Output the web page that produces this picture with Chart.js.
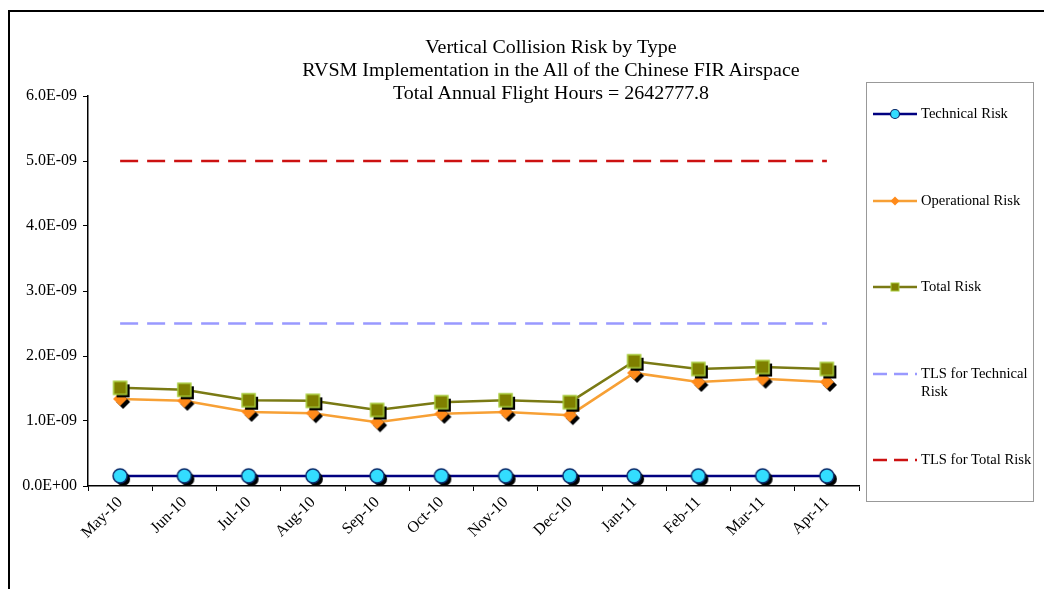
<!DOCTYPE html>
<html>
<head>
<meta charset="utf-8">
<script src="https://cdn.jsdelivr.net/npm/chart.js@4.4.0/dist/chart.umd.min.js"></script>
<style>
  html, body { margin: 0; padding: 0; background: #fff; }
  #wrap { position: relative; width: 1044px; height: 589px; overflow: hidden; font-family: "Liberation Serif", "Times New Roman", serif; }
  #frame { position: absolute; left: 8px; top: 10px; right: -10px; bottom: -10px; border-top: 2px solid #000; border-left: 2px solid #000; }
  #riskChart { position: absolute; left: 0; top: 0; }
  #title { position: absolute; left: 251px; width: 600px; top: 36px; text-align: center; font-size: 18px; line-height: 23px; color: #000; transform: scaleX(1.11); transform-origin: 300px 0; }
  #legend { position: absolute; left: 866px; top: 82px; width: 168px; height: 420px; border: 1px solid #999; box-sizing: border-box; }
  .item { position: absolute; left: 6px; display: flex; align-items: flex-start; font-size: 14.6px; line-height: 18px; color: #000; }
  .item svg { flex: none; margin-top: 2px; }
  .item span { margin-left: 4px; width: 114px; }
</style>
</head>
<body>
<div id="wrap">
  <div id="frame"></div>
  <canvas id="riskChart" width="1044" height="589"></canvas>
  <div id="title">Vertical Collision Risk by Type<br>RVSM Implementation in the All of the Chinese FIR Airspace<br>Total Annual Flight Hours = 2642777.8</div>
  <div id="legend"></div>
</div>
<script>
const meses = ['May-10', 'Jun-10', 'Jul-10', 'Aug-10', 'Sep-10', 'Oct-10', 'Nov-10', 'Dec-10', 'Jan-11', 'Feb-11', 'Mar-11', 'Apr-11'];
const technicalRisk = [1.55e-10, 1.55e-10, 1.55e-10, 1.55e-10, 1.55e-10, 1.55e-10, 1.55e-10, 1.55e-10, 1.55e-10, 1.55e-10, 1.55e-10, 1.55e-10];
const operationalRisk = [1.34e-9, 1.31e-9, 1.14e-9, 1.12e-9, 0.98e-9, 1.11e-9, 1.14e-9, 1.09e-9, 1.74e-9, 1.60e-9, 1.65e-9, 1.60e-9];
const totalRisk = [1.51e-9, 1.48e-9, 1.32e-9, 1.31e-9, 1.17e-9, 1.29e-9, 1.32e-9, 1.29e-9, 1.92e-9, 1.80e-9, 1.83e-9, 1.80e-9];
const tlsTechnical = [2.5e-9, 2.5e-9, 2.5e-9, 2.5e-9, 2.5e-9, 2.5e-9, 2.5e-9, 2.5e-9, 2.5e-9, 2.5e-9, 2.5e-9, 2.5e-9];
const tlsTotal = [5e-9, 5e-9, 5e-9, 5e-9, 5e-9, 5e-9, 5e-9, 5e-9, 5e-9, 5e-9, 5e-9, 5e-9];
const yMin = 0, yMax = 6e-9, yStep = 1e-9;

// formato tipo Excel: 6.0E-09
function formatoCientifico(v) {
    const partes = Number(v).toExponential(1).split('e');
    const exp = parseInt(partes[1], 10);
    return partes[0] + 'E' + (exp < 0 ? '-' : '+') + String(Math.abs(exp)).padStart(2, '0');
}

// marcador con sombra negra
function marcador(forma, tam, relleno, borde, grosor) {
    const off = 3, pad = off + 2, n = tam + pad * 2;
    const c = document.createElement('canvas');
    c.width = n; c.height = n;
    const g = c.getContext('2d');
    const trazo = (cx, cy) => {
        g.beginPath();
        const r = tam / 2;
        if (forma === 'circle') g.arc(cx, cy, r, 0, Math.PI * 2);
        else if (forma === 'rect') g.rect(cx - r, cy - r, tam, tam);
        else { g.moveTo(cx, cy - r); g.lineTo(cx + r, cy); g.lineTo(cx, cy + r); g.lineTo(cx - r, cy); }
        g.closePath();
    };
    g.fillStyle = '#000';
    trazo(n / 2 + off, n / 2 + off); g.fill();
    g.fillStyle = relleno;
    trazo(n / 2, n / 2); g.fill();
    if (borde) { g.strokeStyle = borde; g.lineWidth = grosor; g.stroke(); }
    return c;
}

const series = [
    { label: 'Technical Risk', data: technicalRisk, color: '#000080', forma: 'circle', relleno: '#33DDFF', borde: '#0A2A6A', tam: 14 },
    { label: 'Operational Risk', data: operationalRisk, color: '#F7A035', forma: 'diamond', relleno: '#FF8A1A', borde: null, tam: 14 },
    { label: 'Total Risk', data: totalRisk, color: '#7A7A14', forma: 'rect', relleno: '#7F7F00', borde: '#A8CC3A', tam: 13 },
    { label: 'TLS for Technical Risk', data: tlsTechnical, color: '#9999FF', dash: [18, 9] },
    { label: 'TLS for Total Risk', data: tlsTotal, color: '#CC1111', dash: [18, 9] }
];

const datasets = series.map(s => ({
    label: s.label,
    data: s.data,
    borderColor: s.color,
    backgroundColor: s.color,
    borderWidth: 2.5,
    borderDash: s.dash || [],
    pointStyle: s.forma ? marcador(s.forma, s.tam, s.relleno, s.borde, 1.5) : 'circle',
    pointRadius: s.forma ? 8 : 0,
    tension: 0
}));

const ctx = document.getElementById('riskChart').getContext('2d');
new Chart(ctx, {
    type: 'line',
    data: { labels: meses, datasets: datasets.slice().reverse() },
    options: {
        responsive: false,
        animation: false,
        layout: { padding: { left: 0, top: 96, right: 185, bottom: 0 } },
        scales: {
            x: {
                offset: true,
                afterFit: scale => { scale.height = 103; },
                grid: { display: true, drawOnChartArea: false, drawTicks: true, tickLength: 5, color: '#000', offset: true },
                border: { display: true, color: '#000', width: 1.5 },
                ticks: {
                    color: '#000', maxRotation: 45, minRotation: 45, padding: 2, autoSkip: false,
                    font: { family: 'Liberation Serif', size: 16 }
                }
            },
            y: {
                min: yMin,
                max: yMax,
                afterFit: scale => { scale.width = 88; },
                grid: { display: true, drawOnChartArea: false, drawTicks: true, tickLength: 5, color: '#000' },
                border: { display: true, color: '#000', width: 1.5 },
                ticks: {
                    stepSize: yStep, color: '#000', padding: 6,
                    font: { family: 'Liberation Serif', size: 16 },
                    callback: v => formatoCientifico(v)
                }
            }
        },
        plugins: {
            legend: { display: false },
            title: { display: false },
            tooltip: { enabled: false }
        }
    }
});

// leyenda en HTML
function muestra(s) {
    let m = '';
    if (s.forma === 'circle') m = `<circle cx="22" cy="8" r="4.5" fill="${s.relleno}" stroke="${s.borde}" stroke-width="1.2"/>`;
    else if (s.forma === 'diamond') m = `<path d="M22 3.5 L26.5 8 L22 12.5 L17.5 8 Z" fill="${s.relleno}"/>`;
    else if (s.forma === 'rect') m = `<rect x="18" y="4" width="8" height="8" fill="${s.relleno}" stroke="${s.borde}" stroke-width="1"/>`;
    const dash = s.dash ? `stroke-dasharray="14 7"` : '';
    return `<svg width="44" height="16"><line x1="0" y1="8" x2="44" y2="8" stroke="${s.color}" stroke-width="2.5" ${dash}/>${m}</svg>`;
}
const leyenda = document.getElementById('legend');
series.forEach((s, i) => {
    const d = document.createElement('div');
    d.className = 'item';
    d.style.top = (21 + i * 86.5) + 'px';
    d.innerHTML = muestra(s) + `<span>${s.label}</span>`;
    leyenda.appendChild(d);
});
</script>
</body>
</html>
